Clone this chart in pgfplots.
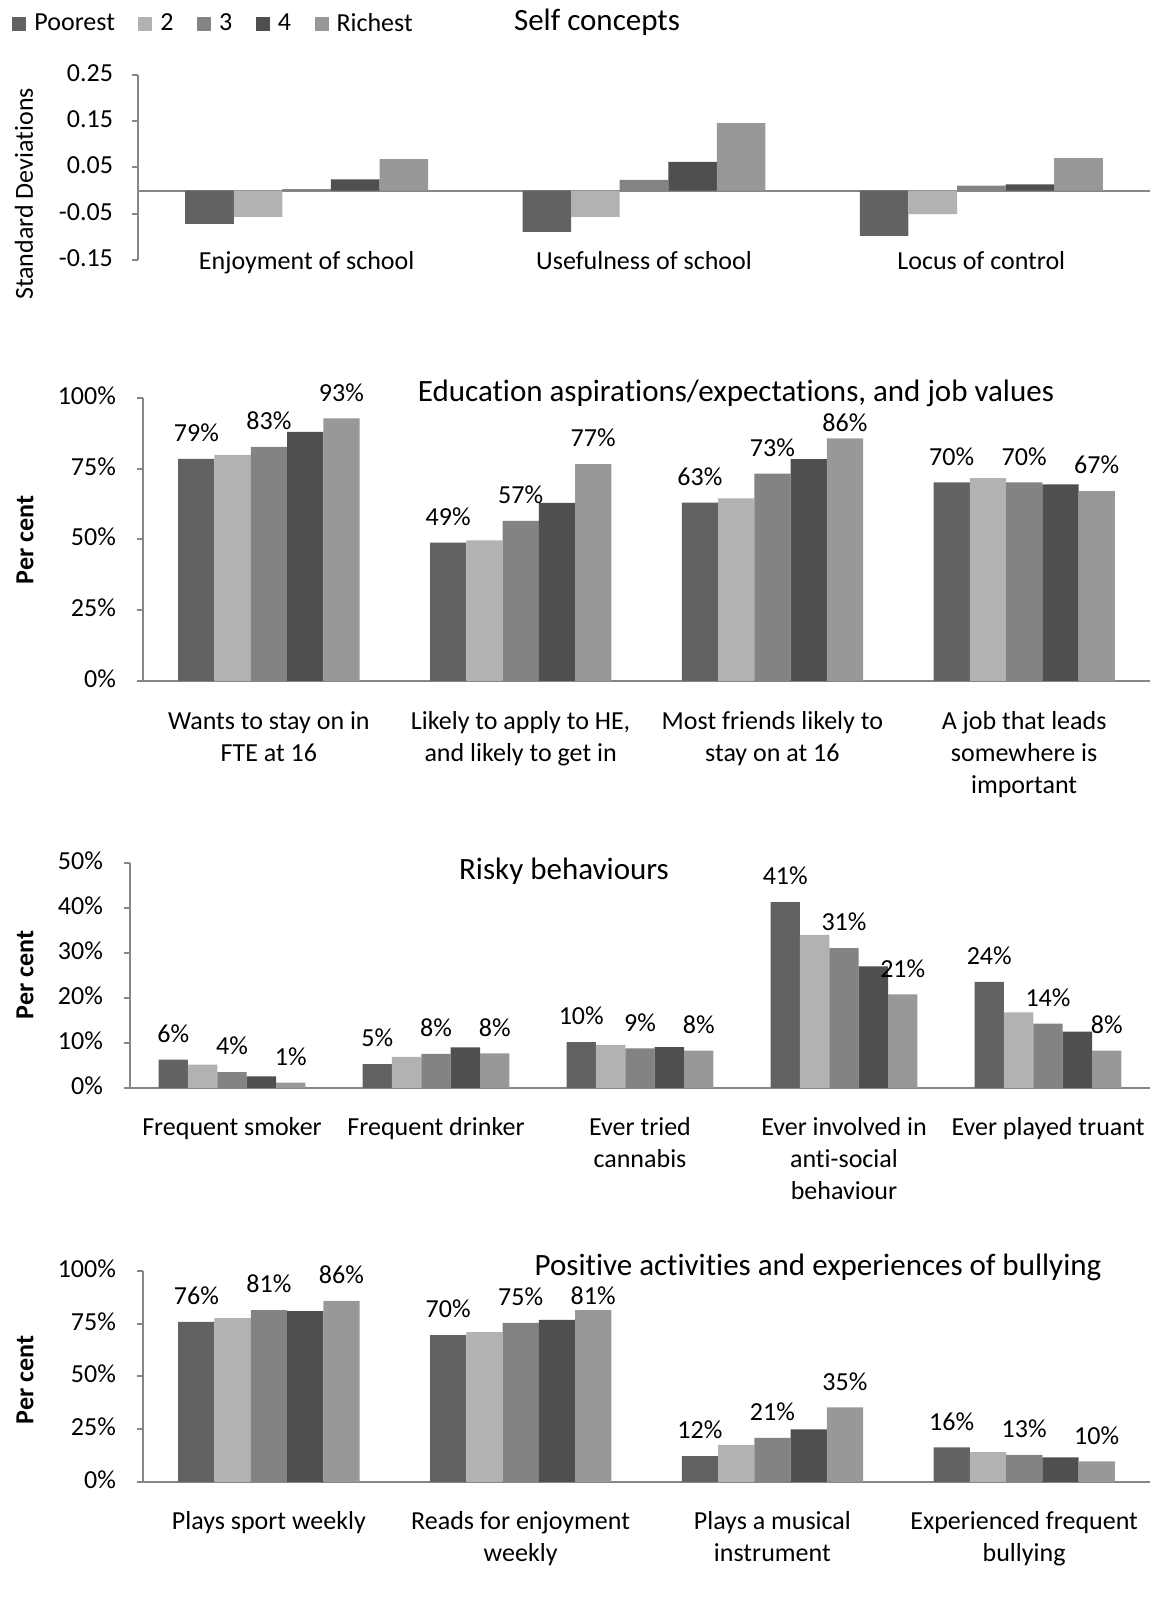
\documentclass[border=0pt]{standalone}
\usepackage{fontspec}
\setmainfont{Carlito}[Ligatures=NoCommon]
\usepackage{pgfplots}
\usepackage{pgfplotstable}
\pgfplotsset{compat=1.18}
\definecolor{cP}{RGB}{98,98,98}
\definecolor{cT}{RGB}{178,178,178}
\definecolor{cH}{RGB}{131,131,131}
\definecolor{cF}{RGB}{79,79,79}
\definecolor{cR}{RGB}{152,152,152}
\definecolor{axgray}{RGB}{134,134,134}
\newcommand{\fs}{\fontsize{13}{16}\selectfont}
\newcommand{\ft}{\fontsize{15.5}{18}\selectfont}

\pgfplotstableread{
x a b c d e
0 -0.072 -0.057 0.003 0.024 0.068
1 -0.089 -0.057 0.023 0.062 0.146
2 -0.098 -0.051 0.011 0.0135 0.070
}\tabSelf

% se = extra vertical shift (pt) of the label over the richest bar
\pgfplotstableread{
x a b c d e la lc le se
0 78.5 79.9 82.7 88.0 92.8 79 83 93 0
1 48.9 49.7 56.6 62.9 76.6 49 57 77 0
2 63.0 64.5 73.3 78.4 85.7 63 73 86 -5
3 70.2 71.7 70.2 69.5 67.1 70 70 67 0
}\tabEdu

\pgfplotstableread{
x a b c d e la lc le se
0 6.3 5.2 3.5 2.6 1.2 6 4 1 0
1 5.3 6.9 7.6 9.0 7.7 5 8 8 0
2 10.2 9.6 8.8 9.1 8.3 10 9 8 0
3 41.3 34.0 31.1 27.0 20.8 41 31 21 0
4 23.6 16.8 14.3 12.5 8.3 24 14 8 0
}\tabRisk

\pgfplotstableread{
x a b c d e la lc le se
0 75.9 77.7 81.4 81.0 85.8 76 81 86 0
1 69.6 71.0 75.4 76.8 81.4 70 75 81 -6
2 12.3 17.6 20.9 24.9 35.4 12 21 35 0
3 16.4 14.2 12.9 11.7 9.8 16 13 10 0
}\tabPos

\pgfplotsset{
  ybar legend/.style={legend image code/.code={\fill[##1,draw=none] (0pt,-3.5pt) rectangle (7pt,3.5pt);}},
  base/.style={
    scale only axis, anchor=south west,
    axis y line*=left, axis x line*=bottom,
    axis line style={draw=axgray, line width=1pt},
    tick align=outside, major tick length=3pt,
    ytick style={draw=axgray, line width=1pt},
    xtick style={draw=none},
    tick label style={font=\fs, text=black},
    yticklabel style={xshift=-7pt},
    xticklabel style={align=center},
    typeset ticklabels with strut,
    ybar=0pt, bar width=0.144,
    clip=false,
  },
  s1/.style={fill=cP, draw=none, bar shift=-0.288},
  s2/.style={fill=cT, draw=none, bar shift=-0.144},
  s3/.style={fill=cH, draw=none, bar shift=0},
  s4/.style={fill=cF, draw=none, bar shift=0.144},
  s5/.style={fill=cR, draw=none, bar shift=0.288},
  lab/.style={nodes near coords={\pgfplotspointmeta\%}, point meta=explicit symbolic,
    every node near coord/.append style={font=\fs, text=black, yshift=5pt}},
  labE/.style={lab, visualization depends on={\thisrow{se} \as \labshift},
    every node near coord/.append style={yshift=\labshift pt}},
}

\begin{document}
\begin{tikzpicture}
\useasboundingbox (0,0) rectangle (576pt,799pt);

% Panel 1
\begin{axis}[base, at={(69pt,669pt)}, width=506pt, height=92.5pt,
  xmin=-0.5, xmax=2.5, ymin=-0.15, ymax=0.25,
  ytick={-0.15,-0.05,0.05,0.15,0.25}, yticklabels={-0.15,-0.05,0.05,0.15,0.25},
  yticklabel style={xshift=1pt},
  xtick={0,1,2}, xticklabels={Enjoyment of school, Usefulness of school, Locus of control},
  x axis line style={draw=none},
  xticklabel style={yshift=13pt},
  extra y ticks={0}, extra y tick labels={},
  extra y tick style={grid=major, major grid style={draw=axgray, line width=1pt}, major tick length=0pt},
  legend style={draw=none, fill=none, at={(axis description cs:-0.1245,1.2757)}, anchor=west,
    legend columns=-1, font=\fs, inner sep=0pt,
    /tikz/every odd column/.append style={column sep=2pt},
    /tikz/every even column/.append style={column sep=9.75pt}},
  ]
\addplot[s1] table[x=x,y=a] {\tabSelf};
\addplot[s2] table[x=x,y=b] {\tabSelf};
\addplot[s3] table[x=x,y=c] {\tabSelf};
\addplot[s4] table[x=x,y=d] {\tabSelf};
\addplot[s5] table[x=x,y=e] {\tabSelf};
\legend{Poorest,2,3,4,Richest}
\end{axis}

% Panel 2
\begin{axis}[base, at={(71.5pt,458.5pt)}, width=503.5pt, height=141.5pt,
  xmin=-0.5, xmax=3.5, ymin=0, ymax=100,
  ytick={0,25,50,75,100}, yticklabels={0\%,25\%,50\%,75\%,100\%},
  xtick={0,1,2,3},
  xticklabels={{Wants to stay on in\\FTE at 16},{Likely to apply to HE,\\and likely to get in},{Most friends likely to\\stay on at 16},{A job that leads\\somewhere is\\important}},
  xticklabel style={yshift=-6.5pt},
  ]
\addplot[s1, lab] table[x=x,y=a,meta=la] {\tabEdu};
\addplot[s2] table[x=x,y=b] {\tabEdu};
\addplot[s3, lab] table[x=x,y=c,meta=lc] {\tabEdu};
\addplot[s4] table[x=x,y=d] {\tabEdu};
\addplot[s5, labE] table[x=x,y=e,meta=le] {\tabEdu};
\end{axis}

% Panel 3
\begin{axis}[base, at={(65pt,255pt)}, width=510pt, height=112.5pt,
  xmin=-0.5, xmax=4.5, ymin=0, ymax=50,
  ytick={0,10,20,30,40,50}, yticklabels={0\%,10\%,20\%,30\%,40\%,50\%},
  xtick={0,1,2,3,4},
  xticklabels={{Frequent smoker},{Frequent drinker},{Ever tried\\cannabis},{Ever involved in\\anti-social\\behaviour},{Ever played truant}},
  xticklabel style={yshift=-6pt},
  ]
\addplot[s1, lab] table[x=x,y=a,meta=la] {\tabRisk};
\addplot[s2] table[x=x,y=b] {\tabRisk};
\addplot[s3, lab] table[x=x,y=c,meta=lc] {\tabRisk};
\addplot[s4] table[x=x,y=d] {\tabRisk};
\addplot[s5, lab] table[x=x,y=e,meta=le] {\tabRisk};
\end{axis}

% Panel 4
\begin{axis}[base, at={(71.5pt,58pt)}, width=503.5pt, height=105.5pt,
  xmin=-0.5, xmax=3.5, ymin=0, ymax=100,
  ytick={0,25,50,75,100}, yticklabels={0\%,25\%,50\%,75\%,100\%},
  xtick={0,1,2,3},
  xticklabels={{Plays sport weekly},{Reads for enjoyment\\weekly},{Plays a musical\\instrument},{Experienced frequent\\bullying}},
  xticklabel style={yshift=-6pt},
  ]
\addplot[s1, lab] table[x=x,y=a,meta=la] {\tabPos};
\addplot[s2] table[x=x,y=b] {\tabPos};
\addplot[s3, lab] table[x=x,y=c,meta=lc] {\tabPos};
\addplot[s4] table[x=x,y=d] {\tabPos};
\addplot[s5, labE] table[x=x,y=e,meta=le] {\tabPos};
\end{axis}

% titles
\node[font=\ft] at (298.5pt,788pt) {Self concepts};
\node[font=\ft] at (368pt,602.5pt) {Education aspirations/expectations, and job values};
\node[font=\ft] at (282pt,363.5pt) {Risky behaviours};
\node[font=\ft] at (409pt,165.5pt) {Positive activities and experiences of bullying};
% axis titles
\node[font=\fs, rotate=90] at (12pt,702pt) {Standard Deviations};
\node[font=\fs\bfseries, rotate=90] at (12.5pt,529pt) {Per cent};
\node[font=\fs\bfseries, rotate=90] at (12.5pt,311.5pt) {Per cent};
\node[font=\fs\bfseries, rotate=90] at (12.5pt,109pt) {Per cent};
\end{tikzpicture}
\end{document}
